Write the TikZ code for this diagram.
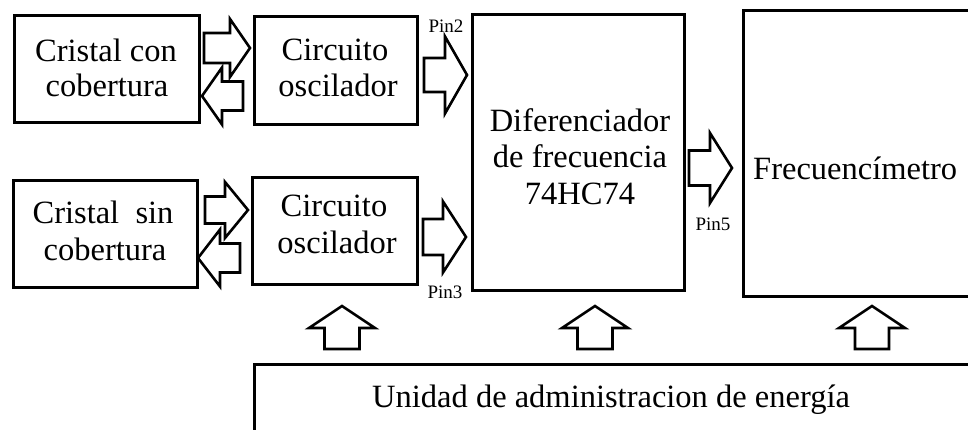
\documentclass[tikz,border=0pt]{standalone}
\usepackage{fontspec}
\setmainfont{Liberation Serif}
\usetikzlibrary{fit}
% right/left block arrow: start x, head-base x, tip x, centre y, body half, head half
\newcommand\hblockarrow[6]{%
  \draw[barrow] (#1,#4-#5) -- (#2,#4-#5) -- (#2,#4-#6) -- (#3,#4) -- (#2,#4+#6) -- (#2,#4+#5) -- (#1,#4+#5) -- cycle;}
% up block arrow: centre x, bottom y, head-base y, tip y, body half, head half
\newcommand\vblockarrow[6]{%
  \draw[barrow] (#1-#5,#2) -- (#1-#5,#3) -- (#1-#6,#3) -- (#1,#4) -- (#1+#6,#3) -- (#1+#5,#3) -- (#1+#5,#2) -- cycle;}
\begin{document}
\begin{tikzpicture}[x=1pt,y=-1pt,
  box/.style={draw, line width=3pt, inner sep=0pt},
  barrow/.style={draw, line width=2.6pt, line join=miter, fill=white},
  lbl/.style={font=\fontsize{32.5}{36}\selectfont, inner sep=0pt, anchor=base},
  pinlbl/.style={font=\fontsize{19}{21}\selectfont, inner sep=0pt, anchor=base}]
\useasboundingbox (0,0) rectangle (968,430);
\fill[white] (0,0) rectangle (968,430);

% boxes
\node[box, fit={(14,16) (199,123)}] (cc) {};
\node[box, fit={(254,17) (417,125)}] (osc1) {};
\node[box, fit={(13,181) (197,287)}] (cs) {};
\node[box, fit={(252,178) (417,284)}] (osc2) {};
\node[box, fit={(472,15) (684,290)}] (dif) {};
\node[box, fit={(743,11) (985,296)}] (frec) {};
\node[box, fit={(254,364) (985,450)}] (pwr) {};

% texts
\node[lbl] (cc1) at (106,62) {Cristal con};
\node[lbl] (cc2) at (107,97) {cobertura};
\node[lbl] (o11) at (335,61) {Circuito};
\node[lbl] (o12) at (338,97) {oscilador};
\node[lbl] (cs1) at (103,224) {Cristal\ \ sin};
\node[lbl] (cs2) at (105,260) {cobertura};
\node[lbl] (o21) at (334,217) {Circuito};
\node[lbl] (o22) at (337,253) {oscilador};
\node[lbl] (d1) at (580,132) {Diferenciador};
\node[lbl] (d2) at (580,168) {de frecuencia};
\node[lbl] (d3) at (580,205) {74HC74};
\node[lbl, anchor=base west] (f1) at (753,180) {Frecuencímetro};
\node[lbl, anchor=base west] (p1) at (372,407) {Unidad de administracion de energía};

\node[pinlbl] (pin2) at (446,33) {Pin2};
\node[pinlbl] (pin3) at (445,298) {Pin3};
\node[pinlbl] (pin5) at (713,230) {Pin5};

% block arrows
\hblockarrow{204}{230}{250}{48}{15}{29}
\hblockarrow{243}{222}{202}{96}{14.5}{28.5}
\hblockarrow{424}{445}{467}{75}{17}{38.5}
\hblockarrow{205}{225}{248}{210}{13.5}{28}
\hblockarrow{240}{220}{198}{258}{14.5}{28.5}
\hblockarrow{423}{443}{466}{237}{18}{35.5}
\hblockarrow{689}{710}{732}{168}{17.5}{35}
\vblockarrow{342}{349}{328}{306}{17.5}{33}
\vblockarrow{595}{349}{328}{306}{17.5}{33}
\vblockarrow{872}{349}{328}{306}{17}{33}
\end{tikzpicture}
\end{document}
